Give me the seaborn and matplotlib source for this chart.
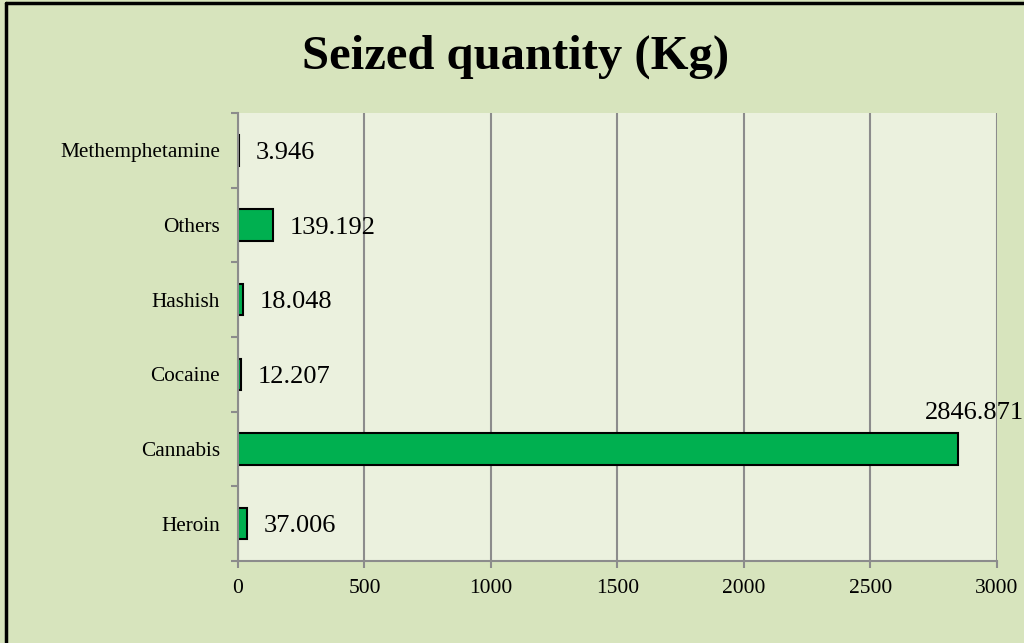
import pandas as pd
import seaborn as sns
from matplotlib import pyplot as plt
from matplotlib.lines import Line2D

# Datos del gráfico
drugs = ["Heroin", "Cannabis", "Cocaine", "Hashish", "Others", "Methemphetamine"]
quantity = [37.006, 2846.871, 12.207, 18.048, 139.192, 3.946]
labels = ["37.006", "2846.871", "12.207", "18.048", "139.192", "3.946"]

df = pd.DataFrame({"drug": drugs, "kg": quantity})
order = drugs[::-1]  # Methemphetamine arriba

sns.set_theme(style="white")
plt.rcParams["font.family"] = ["Liberation Serif", "DejaVu Serif"]

fig = plt.figure(figsize=(10.24, 6.43), dpi=100, facecolor="#D7E4BD")
ax = fig.add_axes([0.2324, 0.1275, 0.7412, 0.6968])
ax.set_facecolor("#EBF1DE")

sns.barplot(data=df, x="kg", y="drug", order=order, color="#00B050",
            edgecolor="black", linewidth=1.5, width=0.42, saturation=1, ax=ax)

ax.set_xlim(0, 3000)
ax.set_xticks(range(0, 3001, 500))
ax.set_ylim(len(order) - 0.5, -0.5)
ax.set_xlabel("")
ax.set_ylabel("")

# Grilla vertical y ejes grises
ax.grid(axis="x", color="#8C8C8C", linewidth=1.5)
ax.set_axisbelow(True)
for s in ["top", "right"]:
    ax.spines[s].set_visible(False)
for s in ["left", "bottom"]:
    ax.spines[s].set_color("#8C8C8C")
    ax.spines[s].set_linewidth(1.5)

# Ticks del eje y entre categorías
ax.set_yticks([i - 0.5 for i in range(len(order) + 1)], minor=False)
ax.set_yticklabels([])
ax.set_yticks(range(len(order)), minor=True)
ax.set_yticklabels(order, minor=True, fontsize=15.3, color="black")
ax.tick_params(axis="y", which="major", length=5, width=1.5, color="#8C8C8C", left=True)
ax.tick_params(axis="y", which="minor", length=0, pad=13)
ax.tick_params(axis="x", length=5, width=1.5, color="#8C8C8C", bottom=True,
               labelsize=15.5, labelcolor="black", pad=8)

# Etiquetas de valores
for i, drug in enumerate(order):
    idx = drugs.index(drug)
    v, lab = quantity[idx], labels[idx]
    if drug == "Cannabis":
        ax.annotate(lab, (v, i), xytext=(-24, 18), textcoords="offset points",
                    ha="left", va="bottom", fontsize=19, color="black",
                    annotation_clip=False)
    else:
        ax.annotate(lab, (v, i), xytext=(12, -2), textcoords="offset points",
                    ha="left", va="center", fontsize=19, color="black")

fig.text(0.503, 0.912, "Seized quantity (Kg)", ha="center", va="center",
         fontsize=35, fontweight="bold", color="black")

# Borde negro (izquierda y arriba)
fig.add_artist(Line2D([0.006, 0.006], [0, 0.995], transform=fig.transFigure,
                      color="black", linewidth=2.5))
fig.add_artist(Line2D([0.006, 1], [0.995, 0.995], transform=fig.transFigure,
                      color="black", linewidth=2.5))

fig.savefig("out.png", dpi=100, facecolor=fig.get_facecolor())
